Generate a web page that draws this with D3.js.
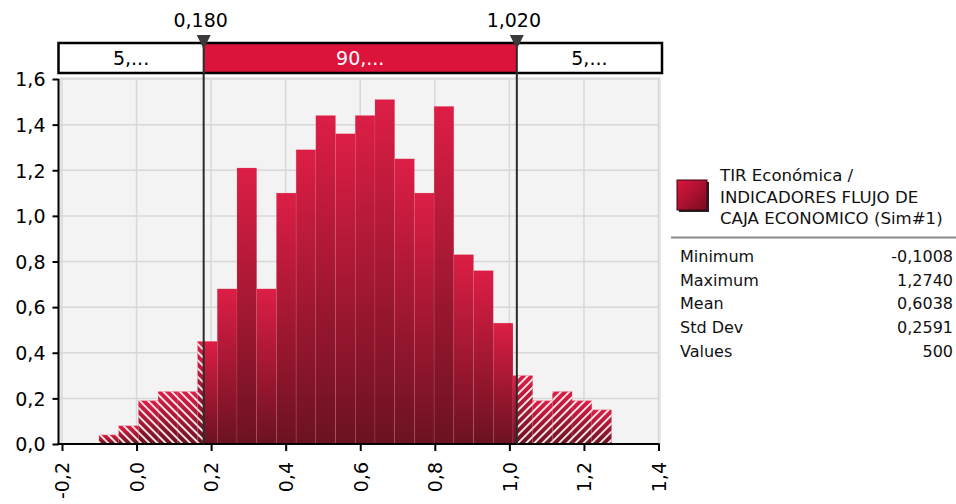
<!DOCTYPE html>
<html><head><meta charset="utf-8">
<script src="https://cdn.jsdelivr.net/npm/d3@7"></script>
<style>html,body{margin:0;padding:0;background:#fff;}svg{display:block;font-family:"DejaVu Sans",Verdana,sans-serif;}</style>
</head><body>
<svg id="chart" width="956" height="504"></svg>
<script>
// ---- data ----
const binStart = -0.1008;
const binEnd = 1.2740;
const density = [0.04,0.08,0.19,0.23,0.23,0.45,0.68,1.21,0.68,1.10,1.29,1.44,1.36,1.44,1.51,1.25,1.10,1.48,0.83,0.76,0.53,0.30,0.19,0.23,0.19,0.15];
const markers = [0.180, 1.020];
const markerLabels = ["0,180", "1,020"];
const bandLabels = ["5,...", "90,...", "5,..."];
const xTicks = [-0.2,0.0,0.2,0.4,0.6,0.8,1.0,1.2,1.4];
const yTicks = [0.0,0.2,0.4,0.6,0.8,1.0,1.2,1.4,1.6];
const legendLines = ["TIR Económica /", "INDICADORES FLUJO DE", "CAJA ECONOMICO (Sim#1)"];
const statNames = ["Minimum","Maximum","Mean","Std Dev","Values"];
const statValues = ["-0,1008","1,2740","0,6038","0,2591","500"];

const fmt = v => d3.format(".1f")(v).replace(".", ",").replace("−","-");

const svg = d3.select("#chart");
const x = d3.scaleLinear().domain([-0.2, 1.4]).range([62, 658.5]);
const y = d3.scaleLinear().domain([0, 1.6]).range([444, 79]);
const axisX0 = 58.5;

const defs = svg.append("defs");
const g1 = defs.append("linearGradient").attr("id","barGrad").attr("x1",0).attr("y1",0).attr("x2",0).attr("y2",1);
g1.append("stop").attr("offset","0%").attr("stop-color","#dc163e");
g1.append("stop").attr("offset","100%").attr("stop-color","#660919");
const g2 = defs.append("linearGradient").attr("id","legGrad").attr("x1",0).attr("y1",0).attr("x2",1).attr("y2",1);
g2.append("stop").attr("offset","0%").attr("stop-color","#dc163e");
g2.append("stop").attr("offset","100%").attr("stop-color","#7a0c22");
function hatch(id, angle){
  const p = defs.append("pattern").attr("id",id).attr("patternUnits","userSpaceOnUse")
    .attr("width",5.8).attr("height",5.8).attr("patternTransform",`rotate(${angle})`);
  p.append("line").attr("x1",1).attr("y1",0).attr("x2",1).attr("y2",5.8)
    .attr("stroke","#fff").attr("stroke-width",1.8).attr("stroke-opacity",0.95);
}
hatch("hatchL", -45);
hatch("hatchR", 45);

// plot background
svg.append("rect").attr("x",60).attr("y",78).attr("width",600).attr("height",366)
  .attr("fill","#f3f3f3").attr("stroke","#e2e2e2").attr("stroke-width",1.5);

// grid
svg.append("g").selectAll("line").data(xTicks).join("line")
  .attr("x1",d=>x(d)).attr("x2",d=>x(d)).attr("y1",79).attr("y2",444)
  .attr("stroke","#d8d8d8").attr("stroke-width",1.5);
svg.append("g").selectAll("line").data(yTicks).join("line")
  .attr("x1",axisX0).attr("x2",659).attr("y1",d=>y(d)).attr("y2",d=>y(d))
  .attr("stroke","#d8d8d8").attr("stroke-width",1.5);

// bars
const bw = (binEnd - binStart) / density.length;
const bins = density.map((v,i)=>({x0: binStart + i*bw, x1: binStart + (i+1)*bw, v}));
const bars = svg.append("g");
bars.selectAll("rect").data(bins).join("rect")
  .attr("x",d=>x(d.x0)).attr("width",d=>x(d.x1)-x(d.x0))
  .attr("y",d=>y(d.v)).attr("height",d=>y(0)-y(d.v))
  .attr("fill","url(#barGrad)").attr("opacity",0.96)
  .attr("stroke","#f07a90").attr("stroke-opacity",0.3).attr("stroke-width",0.6);
// hatched tails
const tails = [];
bins.forEach(d=>{
  if (d.x0 < markers[0]) tails.push({a:d.x0, b:Math.min(d.x1, markers[0]), v:d.v, id:"hatchL"});
  if (d.x1 > markers[1]) tails.push({a:Math.max(d.x0, markers[1]), b:d.x1, v:d.v, id:"hatchR"});
});
bars.append("g").selectAll("rect").data(tails).join("rect")
  .attr("x",d=>x(d.a)).attr("width",d=>x(d.b)-x(d.a))
  .attr("y",d=>y(d.v)).attr("height",d=>y(0)-y(d.v))
  .attr("fill",d=>`url(#${d.id})`);

// axes
const xAxis = svg.append("g").attr("transform","translate(0,444)")
  .call(d3.axisBottom(x).tickValues(xTicks).tickSize(7).tickFormat(fmt));
xAxis.select(".domain").remove();
xAxis.selectAll(".tick line").attr("stroke","#000").attr("stroke-width",2);
xAxis.selectAll(".tick text").attr("transform","rotate(-90)")
  .attr("x",-18).attr("y",0).attr("dy","0.36em").attr("text-anchor","end")
  .attr("font-size",19).attr("fill","#000").attr("font-family","DejaVu Sans");
const yAxis = svg.append("g").attr("transform",`translate(${axisX0},0)`)
  .call(d3.axisLeft(y).tickValues(yTicks).tickSize(6).tickFormat(fmt));
yAxis.select(".domain").remove();
yAxis.selectAll(".tick line").attr("stroke","#000").attr("stroke-width",2);
yAxis.selectAll(".tick text").attr("x",-13).attr("dy","0.36em")
  .attr("font-size",19).attr("fill","#000").attr("font-family","DejaVu Sans");
svg.append("line").attr("x1",axisX0).attr("x2",axisX0).attr("y1",79).attr("y2",445).attr("stroke","#000").attr("stroke-width",2);
svg.append("line").attr("x1",axisX0-1).attr("x2",659.5).attr("y1",444).attr("y2",444).attr("stroke","#000").attr("stroke-width",2);

// top band
const bandY = 43, bandH = 30, bandL = 58.5, bandR = 662;
const edges = [bandL, x(markers[0]), x(markers[1]), bandR];
const band = svg.append("g");
band.selectAll("rect").data(bandLabels).join("rect")
  .attr("x",(d,i)=>edges[i]).attr("width",(d,i)=>edges[i+1]-edges[i])
  .attr("y",bandY).attr("height",bandH)
  .attr("fill",(d,i)=>i===1?"#dc143c":"#fff");
band.append("rect").attr("x",bandL).attr("y",bandY).attr("width",bandR-bandL).attr("height",bandH)
  .attr("fill","none").attr("stroke","#000").attr("stroke-width",2.5);
band.selectAll("text").data(bandLabels).join("text")
  .attr("x",(d,i)=>(edges[i]+edges[i+1])/2).attr("y",bandY+22)
  .attr("text-anchor","middle").attr("font-size",19)
  .attr("fill",(d,i)=>i===1?"#fff":"#000").text(d=>d);

// markers
const mk = svg.append("g");
mk.selectAll("line").data(markers).join("line")
  .attr("x1",d=>x(d)).attr("x2",d=>x(d)).attr("y1",46).attr("y2",444)
  .attr("stroke","#2a2a2a").attr("stroke-width",2);
mk.selectAll("path").data(markers).join("path")
  .attr("d",d=>`M${x(d)-7},35 L${x(d)+7},35 L${x(d)},49 Z`).attr("fill","#3a3a3a");
mk.selectAll("text").data(markers).join("text")
  .attr("x",d=>x(d)-3).attr("y",27).attr("text-anchor","middle")
  .attr("font-size",19).attr("fill","#000").text((d,i)=>markerLabels[i]);

// legend
const lg = svg.append("g");
lg.append("rect").attr("x",679).attr("y",182).attr("width",30).attr("height",30).attr("fill","#222");
lg.append("rect").attr("x",677).attr("y",180).attr("width",30).attr("height",30)
  .attr("fill","url(#legGrad)").attr("stroke","#3a0610").attr("stroke-width",1);
lg.selectAll("text.l").data(legendLines).join("text").attr("class","l")
  .attr("x",720).attr("y",(d,i)=>181+i*21.7).attr("font-size",16.6).attr("fill","#111").text(d=>d);
lg.append("line").attr("x1",671).attr("x2",956).attr("y1",237.5).attr("y2",237.5)
  .attr("stroke","#8c8c8c").attr("stroke-width",2);
lg.selectAll("text.n").data(statNames).join("text").attr("class","n")
  .attr("x",680).attr("y",(d,i)=>262+i*23.7).attr("font-size",16).attr("fill","#111").text(d=>d);
lg.selectAll("text.v").data(statValues).join("text").attr("class","v")
  .attr("x",953).attr("y",(d,i)=>262+i*23.7).attr("text-anchor","end")
  .attr("font-size",16).attr("fill","#111").text(d=>d);
</script>
</body></html>
